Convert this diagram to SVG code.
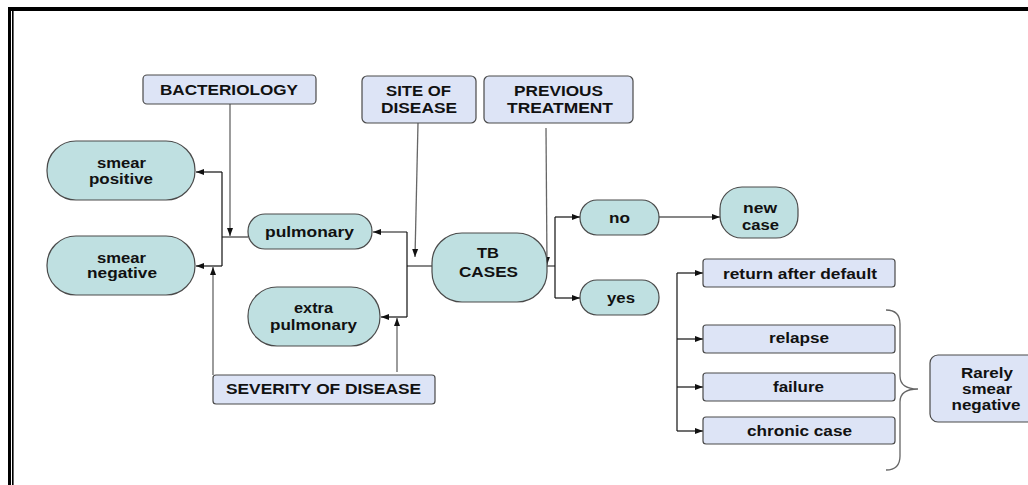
<svg xmlns="http://www.w3.org/2000/svg" width="1028" height="485" viewBox="0 0 1028 485">
<style>
.t{fill:#bfe0e1;stroke:#4a4a4a;stroke-width:1.2}
.l{fill:#dde4f6;stroke:#4a4a4a;stroke-width:1.2}
text{font-family:"Liberation Sans",Arial,sans-serif;font-weight:bold;font-size:14.5px;fill:#111;text-anchor:middle}
.c{fill:none;stroke:#111;stroke-width:1.2}
.g{fill:none;stroke:#666;stroke-width:1.3}
.a{marker-end:url(#ah)}
</style>
<defs>
<marker id="ah" markerUnits="userSpaceOnUse" markerWidth="9" markerHeight="7" refX="8" refY="3.5" orient="auto">
<path d="M0,0.5 L8,3.5 L0,6.5 z" fill="#111"/>
</marker>
</defs>
<rect width="1028" height="485" fill="#fff"/>
<g id="frame">
<rect x="8" y="7" width="1020" height="4" fill="#000"/>
<rect x="8" y="7" width="3" height="478" fill="#000"/>
<rect x="12" y="11" width="1.6" height="474" fill="#000"/>
</g>
<g id="connectors">
<path class="g a" d="M230,104 V236"/>
<path class="c" d="M248,237 H222 M222,172 V266"/>
<path class="c a" d="M222,172 H196"/>
<path class="c a" d="M222,266 H196"/>
<path class="g a" d="M213,375 V267"/>
<path class="g a" d="M418,123 L415,257"/>
<path class="c" d="M432,266 H407 M407,232 V317"/>
<path class="c a" d="M407,232 H373"/>
<path class="c a" d="M407,317 H381"/>
<path class="g a" d="M397,372 V318"/>
<path class="g a" d="M546,128 L547,265"/>
<path class="c" d="M547,266 H555 M555,217 V298"/>
<path class="c a" d="M555,217 H580"/>
<path class="c a" d="M555,298 H580"/>
<path class="c a" d="M659,217 H720"/>
<path class="c" d="M677,273 V431"/>
<path class="c a" d="M677,273 H703"/>
<path class="c a" d="M677,339 H703"/>
<path class="c a" d="M677,387 H703"/>
<path class="c a" d="M677,431 H703"/>
<path class="g" d="M886,310 Q900,310 900,324 V376 Q900,389 918,389 Q900,389 900,402 V456 Q900,470 886,470"/>
</g>
<g id="bacteriology"><rect class="l" x="143" y="75" width="173" height="29" rx="4"/><text x="229" y="95" textLength="138" lengthAdjust="spacingAndGlyphs">BACTERIOLOGY</text></g>
<g id="site-of-disease"><rect class="l" x="362" y="76" width="114" height="47" rx="5"/><text x="418.5" y="96" textLength="65" lengthAdjust="spacingAndGlyphs">SITE OF</text><text x="419" y="113" textLength="76" lengthAdjust="spacingAndGlyphs">DISEASE</text></g>
<g id="previous-treatment"><rect class="l" x="484" y="76" width="149" height="47" rx="5"/><text x="558.5" y="96" textLength="89" lengthAdjust="spacingAndGlyphs">PREVIOUS</text><text x="560" y="113" textLength="106" lengthAdjust="spacingAndGlyphs">TREATMENT</text></g>
<g id="smear-positive"><rect class="t" x="47" y="141" width="148" height="59" rx="29"/><text x="121.5" y="168" textLength="49" lengthAdjust="spacingAndGlyphs">smear</text><text x="121" y="184" textLength="64" lengthAdjust="spacingAndGlyphs">positive</text></g>
<g id="smear-negative"><rect class="t" x="47" y="236" width="148" height="59" rx="29"/><text x="121.5" y="263" textLength="49" lengthAdjust="spacingAndGlyphs">smear</text><text x="122" y="278" textLength="70" lengthAdjust="spacingAndGlyphs">negative</text></g>
<g id="pulmonary"><rect class="t" x="248" y="214" width="124" height="35" rx="17"/><text x="309.5" y="237" textLength="89" lengthAdjust="spacingAndGlyphs">pulmonary</text></g>
<g id="extra-pulmonary"><rect class="t" x="248" y="287" width="132" height="59" rx="29"/><text x="313.5" y="313" textLength="39" lengthAdjust="spacingAndGlyphs">extra</text><text x="313.5" y="330" textLength="87" lengthAdjust="spacingAndGlyphs">pulmonary</text></g>
<g id="tb-cases"><rect class="t" x="432" y="233" width="115" height="69" rx="30"/><text x="488" y="258" textLength="22" lengthAdjust="spacingAndGlyphs">TB</text><text x="488.5" y="277" textLength="59" lengthAdjust="spacingAndGlyphs">CASES</text></g>
<g id="no"><rect class="t" x="580" y="200" width="79" height="35" rx="17"/><text x="619.5" y="223" textLength="21" lengthAdjust="spacingAndGlyphs">no</text></g>
<g id="yes"><rect class="t" x="580" y="280" width="79" height="35" rx="17"/><text x="621" y="303" textLength="28" lengthAdjust="spacingAndGlyphs">yes</text></g>
<g id="new-case"><rect class="t" x="720" y="187" width="78" height="51" rx="22"/><text x="760" y="213" textLength="34" lengthAdjust="spacingAndGlyphs">new</text><text x="760.5" y="230" textLength="37" lengthAdjust="spacingAndGlyphs">case</text></g>
<g id="return-after-default"><rect class="l" x="703" y="259" width="192" height="28" rx="3"/><text x="800" y="279" textLength="154" lengthAdjust="spacingAndGlyphs">return after default</text></g>
<g id="relapse"><rect class="l" x="703" y="325" width="192" height="28" rx="3"/><text x="799" y="343" textLength="60" lengthAdjust="spacingAndGlyphs">relapse</text></g>
<g id="failure"><rect class="l" x="703" y="373" width="192" height="28" rx="3"/><text x="798.5" y="392" textLength="51" lengthAdjust="spacingAndGlyphs">failure</text></g>
<g id="chronic-case"><rect class="l" x="703" y="417" width="192" height="27" rx="3"/><text x="799.5" y="436" textLength="105" lengthAdjust="spacingAndGlyphs">chronic case</text></g>
<g id="severity-of-disease"><rect class="l" x="213" y="375" width="222" height="29" rx="3"/><text x="323.5" y="394" textLength="195" lengthAdjust="spacingAndGlyphs">SEVERITY OF DISEASE</text></g>
<g id="rarely-smear-negative"><rect class="l" x="930" y="355" width="110" height="67" rx="8"/><text x="987" y="378" textLength="52" lengthAdjust="spacingAndGlyphs">Rarely</text><text x="987" y="394" textLength="50" lengthAdjust="spacingAndGlyphs">smear</text><text x="986" y="410" textLength="69" lengthAdjust="spacingAndGlyphs">negative</text></g>
</svg>
